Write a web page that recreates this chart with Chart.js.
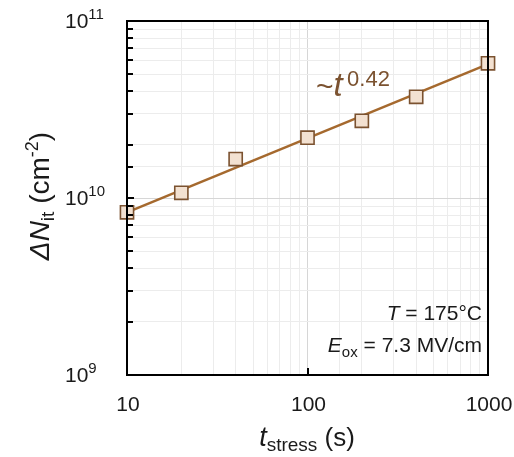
<!DOCTYPE html>
<html>
<head>
<meta charset="utf-8">
<script src="https://cdn.jsdelivr.net/npm/chart.js@4/dist/chart.umd.min.js"></script>
<style>
  html, body { margin: 0; padding: 0; background: #fff; }
  canvas { display: block; }
</style>
</head>
<body>
<canvas id="nitChart" width="514" height="457"></canvas>
<script>
const stressTimes = [10, 20, 40, 100, 200, 400, 1000];
const deltaNit = [8.3e9, 1.07e10, 1.66e10, 2.19e10, 2.73e10, 3.73e10, 5.77e10];

// power-law fit line endpoints (~t^0.42)
const fitTimes = [10, 1000];
const fitValues = [8.3e9, 5.7e10];

// tick labels
const xTickValues = [10, 100, 1000];
const xTickLabels = ['10', '100', '1000'];
const yTickValues = [1e9, 1e10, 1e11];
const yTickExps = ['9', '10', '11'];

const FONT = "'Liberation Sans', Arial, sans-serif";
const BROWN = '#7b5230';

function isMajor(v) {
    const l = Math.log10(v);
    return Math.abs(l - Math.round(l)) < 1e-6;
}

// draws text pieces one after another: [text, size, italic, dy]
function drawRich(ctx, parts, x, y, align) {
    let total = 0;
    parts.forEach(p => {
        ctx.font = (p[2] ? 'italic ' : '') + p[1] + 'px ' + FONT;
        total += ctx.measureText(p[0]).width;
    });
    let cx = x;
    if (align === 'right') cx = x - total;
    if (align === 'center') cx = x - total / 2;
    ctx.textAlign = 'left';
    ctx.textBaseline = 'alphabetic';
    parts.forEach(p => {
        ctx.font = (p[2] ? 'italic ' : '') + p[1] + 'px ' + FONT;
        ctx.fillText(p[0], cx, y + (p[3] || 0));
        cx += ctx.measureText(p[0]).width;
    });
}

const decorPlugin = {
    id: 'decor',
    afterDraw(chart) {
        const ctx = chart.ctx;
        const area = chart.chartArea;
        const xs = chart.scales.x;
        const ys = chart.scales.y;
        ctx.save();

        // frame
        ctx.strokeStyle = '#000';
        ctx.lineWidth = 2;
        ctx.strokeRect(area.left, area.top, area.right - area.left, area.bottom - area.top);

        // inward ticks on y axis
        ys.ticks.forEach(t => {
            const py = Math.round(ys.getPixelForValue(t.value));
            const len = isMajor(t.value) ? 7 : 6;
            ctx.beginPath();
            ctx.moveTo(area.left, py);
            ctx.lineTo(area.left + len, py);
            ctx.stroke();
        });
        // inward major tick on x axis
        ctx.beginPath();
        const p100 = Math.round(xs.getPixelForValue(100));
        ctx.moveTo(p100, area.bottom);
        ctx.lineTo(p100, area.bottom - 7);
        ctx.stroke();

        ctx.fillStyle = '#1a1a1a';
        // x tick labels
        xTickValues.forEach((v, i) => {
            drawRich(ctx, [[xTickLabels[i], 21, false]], xs.getPixelForValue(v) + 1, 411, 'center');
        });
        // y tick labels 10^n
        yTickValues.forEach((v, i) => {
            const py = ys.getPixelForValue(v);
            drawRich(ctx, [['10', 21, false], [yTickExps[i], 15, false, -9]], 65, py + 7, 'left');
        });

        // axis titles
        drawRich(ctx, [['t', 27, true], ['stress', 19, false, 5], [' (s)', 26, false]], 307, 446, 'center');

        ctx.save();
        ctx.translate(49, 196);
        ctx.rotate(-Math.PI / 2);
        drawRich(ctx, [['\u0394N', 28, true], ['it', 19, false, 5], [' (cm', 28, false], ['-2', 18, false, -11], [')', 28, false]], 0, 0, 'center');
        ctx.restore();

        // annotations
        drawRich(ctx, [['T', 21, true], [' = 175\u00b0C', 21, false]], 482, 320, 'right');
        drawRich(ctx, [['E', 21, true], ['ox', 15, false, 5], [' = 7.3 MV/cm', 21, false]], 482, 352, 'right');

        ctx.fillStyle = BROWN;
        drawRich(ctx, [['~', 30, false], ['t', 33, true], ['\u20090.42', 22, false, -10]], 316, 96, 'left');

        ctx.restore();
    }
};

const gridColor = c => (c.tick && isMajor(c.tick.value)) ? '#d6d6d6' : '#ececec';

const nitCtx = document.getElementById('nitChart').getContext('2d');
const nitChart = new Chart(nitCtx, {
    type: 'scatter',
    data: {
        datasets: [{
            label: 'data',
            data: stressTimes.map((t, i) => ({ x: t, y: deltaNit[i] })),
            pointStyle: 'rect',
            pointRadius: 9.3,
            pointBackgroundColor: '#f3e1d1',
            pointBorderColor: BROWN,
            pointBorderWidth: 1.6,
            showLine: false,
            clip: false,
            order: 0
        }, {
            label: 'fit',
            data: fitTimes.map((t, i) => ({ x: t, y: fitValues[i] })),
            showLine: true,
            borderColor: '#a5692e',
            borderWidth: 2.5,
            pointRadius: 0,
            clip: false,
            order: 1
        }]
    },
    options: {
        responsive: false,
        animation: false,
        events: [],
        layout: {
            padding: { left: 127, top: 21, right: 26, bottom: 82 }
        },
        plugins: {
            legend: { display: false },
            tooltip: { enabled: false }
        },
        scales: {
            x: {
                type: 'logarithmic',
                min: 10,
                max: 1000,
                ticks: { display: false },
                grid: { color: gridColor, lineWidth: 1, drawTicks: false },
                border: { display: false }
            },
            y: {
                type: 'logarithmic',
                min: 1e9,
                max: 1e11,
                ticks: { display: false },
                grid: { color: gridColor, lineWidth: 1, drawTicks: false },
                border: { display: false }
            }
        }
    },
    plugins: [decorPlugin]
});
</script>
</body>
</html>
